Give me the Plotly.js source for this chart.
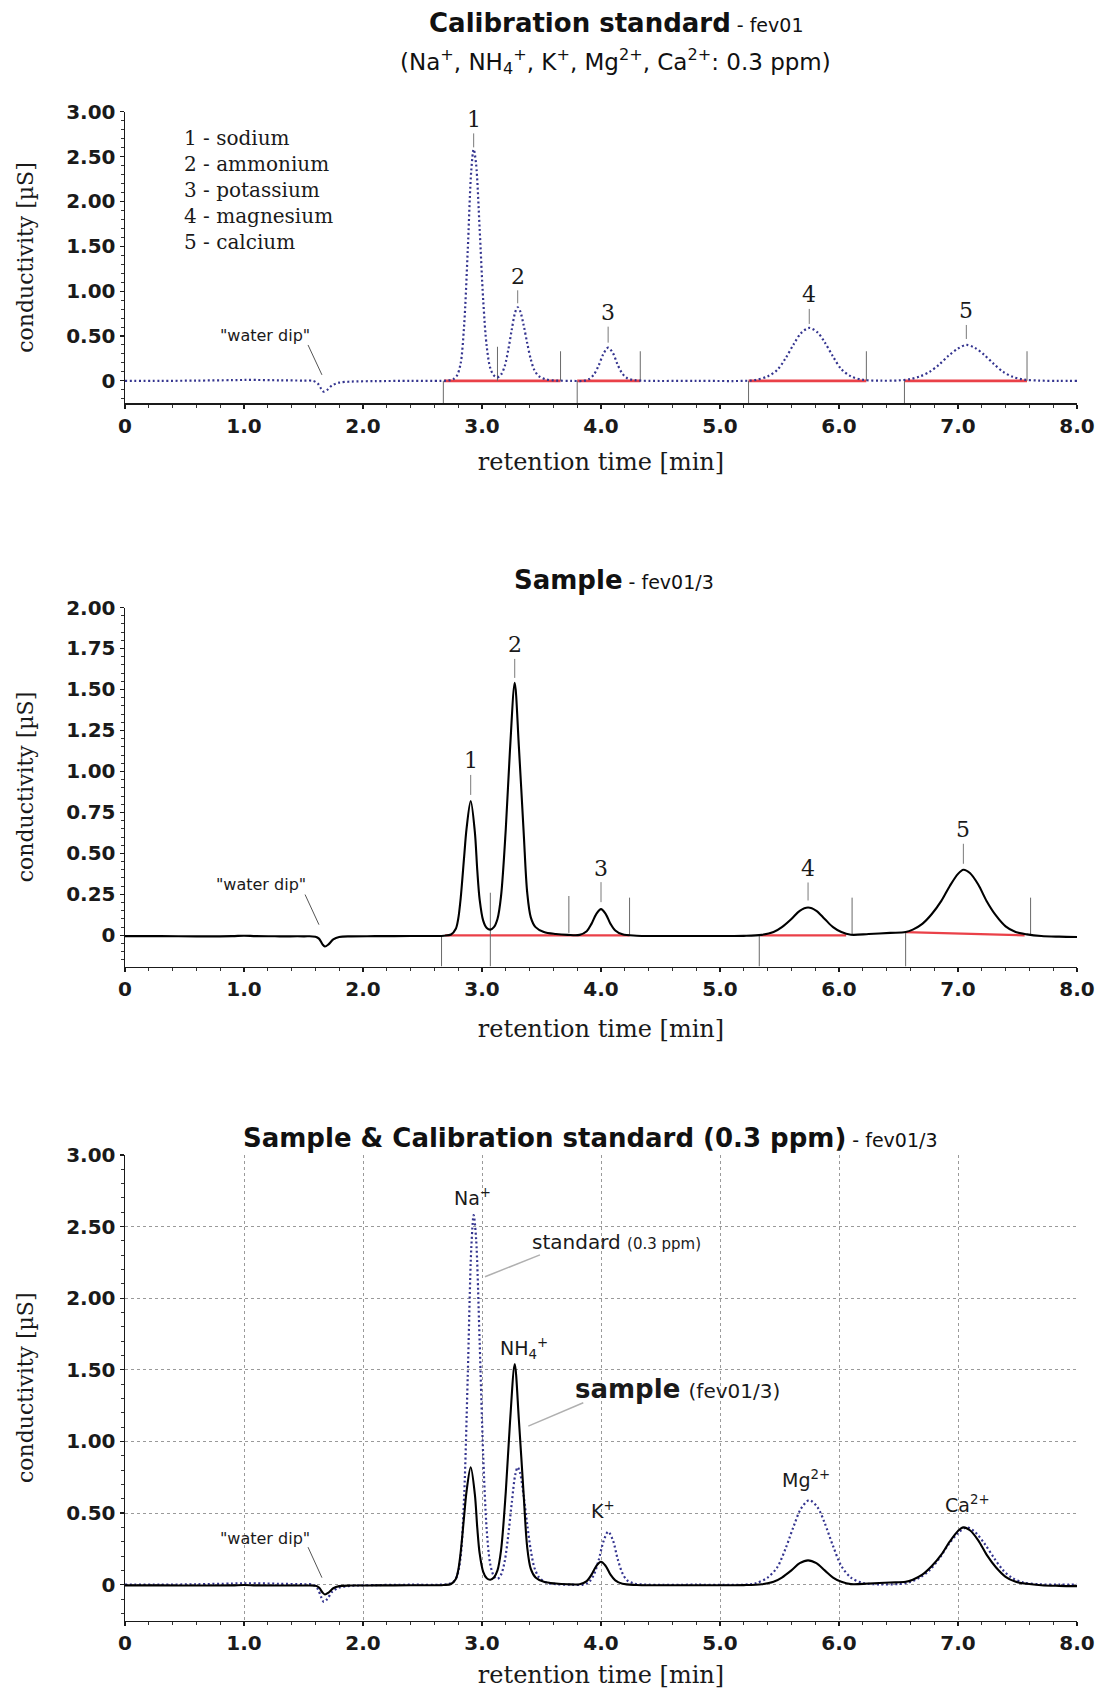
<!DOCTYPE html>
<html>
<head>
<meta charset="utf-8">
<script src="https://cdn.plot.ly/plotly-3.0.1.min.js"></script>
<style>
  html, body { margin: 0; padding: 0; background: #ffffff; }
  #chart { width: 1099px; height: 1691px; }
</style>
</head>
<body>
<div id="chart"></div>
<script>
// ---- Chromatogram of the 0.3 ppm calibration standard (retention time [min], conductivity [µS]) ----
const stdTime = [0, 0.3, 0.6, 0.9, 1.0, 1.1, 1.3, 1.5, 1.58, 1.62, 1.65, 1.67, 1.70, 1.74, 1.80, 1.90, 2.1, 2.4, 2.65,
  2.72, 2.76, 2.79, 2.82, 2.85, 2.88, 2.91, 2.93, 2.95, 2.98, 3.01, 3.04, 3.07, 3.10, 3.13,
  3.16, 3.19, 3.22, 3.25, 3.28, 3.30, 3.32, 3.35, 3.38, 3.41, 3.44, 3.48, 3.54, 3.62, 3.75,
  3.85, 3.90, 3.94, 3.98, 4.02, 4.06, 4.10, 4.14, 4.18, 4.22, 4.28, 4.40, 4.8, 5.2,
  5.30, 5.40, 5.48, 5.55, 5.62, 5.68, 5.75, 5.82, 5.88, 5.95, 6.02, 6.10, 6.20, 6.35,
  6.50, 6.60, 6.68, 6.76, 6.84, 6.92, 7.00, 7.07, 7.14, 7.22, 7.30, 7.38, 7.46, 7.55, 7.68, 7.85, 8.0];
const stdCond = [0, 0, 0.003, 0.008, 0.01, 0.01, 0.006, 0.003, 0, -0.03, -0.09, -0.12, -0.10, -0.05, -0.02, -0.008, -0.003, 0, 0,
  0.005, 0.02, 0.06, 0.19, 0.62, 1.45, 2.35, 2.58, 2.42, 1.70, 0.90, 0.38, 0.14, 0.06, 0.04,
  0.07, 0.16, 0.34, 0.57, 0.77, 0.82, 0.78, 0.62, 0.42, 0.24, 0.12, 0.05, 0.015, 0.004, 0,
  0, 0.02, 0.07, 0.17, 0.30, 0.37, 0.31, 0.18, 0.08, 0.03, 0.008, 0, 0, 0,
  0.01, 0.05, 0.12, 0.25, 0.41, 0.53, 0.59, 0.54, 0.43, 0.27, 0.13, 0.05, 0.012, 0.002,
  0.005, 0.02, 0.05, 0.10, 0.18, 0.28, 0.36, 0.40, 0.37, 0.29, 0.19, 0.10, 0.045, 0.015, 0.003, 0, 0];

// ---- Chromatogram of sample fev01/3 ----
const sampleTime = [0, 0.3, 0.6, 0.9, 1.0, 1.1, 1.3, 1.5, 1.6, 1.63, 1.66, 1.68, 1.71, 1.75, 1.80, 1.90, 2.1, 2.4, 2.68,
  2.74, 2.78, 2.80, 2.82, 2.85, 2.87, 2.905, 2.94, 2.96, 2.98, 3.01, 3.04, 3.07,
  3.10, 3.13, 3.16, 3.20, 3.235, 3.275, 3.31, 3.35, 3.38, 3.41, 3.45, 3.52, 3.62, 3.72,
  3.82, 3.88, 3.92, 3.96, 4.00, 4.04, 4.08, 4.12, 4.18, 4.30, 4.8, 5.2,
  5.35, 5.45, 5.52, 5.60, 5.67, 5.74, 5.81, 5.88, 5.95, 6.02, 6.10, 6.25, 6.43,
  6.56, 6.62, 6.70, 6.78, 6.86, 6.93, 7.00, 7.045, 7.10, 7.17, 7.24, 7.32, 7.40, 7.48, 7.58, 7.70, 7.85, 8.0];
const sampleCond = [-0.005, -0.005, -0.006, -0.005, -0.002, -0.005, -0.006, -0.006, -0.008, -0.02, -0.055, -0.068, -0.055, -0.025, -0.01, -0.006, -0.005, -0.004, -0.002,
  0.005, 0.04, 0.10, 0.22, 0.48, 0.65, 0.82, 0.63, 0.40, 0.22, 0.09, 0.045, 0.035,
  0.05, 0.10, 0.24, 0.65, 1.13, 1.54, 1.15, 0.63, 0.26, 0.11, 0.05, 0.02, 0.008, 0.003,
  0.003, 0.025, 0.07, 0.13, 0.16, 0.13, 0.07, 0.03, 0.006, -0.002, -0.004, -0.003,
  0.003, 0.02, 0.05, 0.10, 0.15, 0.17, 0.15, 0.10, 0.05, 0.02, 0.004, 0.008, 0.015,
  0.02, 0.035, 0.07, 0.13, 0.21, 0.30, 0.375, 0.40, 0.38, 0.31, 0.21, 0.12, 0.055, 0.022, 0.006, -0.004, -0.008, -0.01];

// ---- Peak identification ----
const peakNumbers = ['1', '2', '3', '4', '5'];
const ionNames = ['sodium', 'ammonium', 'potassium', 'magnesium', 'calcium'];
const ionSymbols = ['Na<sup>+</sup>', 'NH<sub>4</sub><sup>+</sup>', 'K<sup>+</sup>', 'Mg<sup>2+</sup>', 'Ca<sup>2+</sup>'];
const stdPeakTimes = [2.93, 3.30, 4.06, 5.75, 7.07];
const samplePeakTimes = [2.905, 3.275, 4.00, 5.74, 7.045];

// ---- Integration: peak start/end markers and baselines ----
const stdMarkTime = [2.675, 3.13, 3.66, 3.80, 4.33, 5.24, 6.23, 6.55, 7.58];
const stdMarkTop = [0, 0.38, 0.33, 0, 0.33, 0, 0.33, 0, 0.33];
const stdMarkBottom = [-0.25, 0, 0, -0.25, 0, -0.25, 0, -0.25, 0];
const stdBaseStart = [2.68, 3.80, 5.24, 6.55];
const stdBaseEnd = [3.66, 4.33, 6.23, 7.58];
const stdBaseStartY = [0, 0, 0, 0];
const stdBaseEndY = [0, 0, 0, 0];

const sampleMarkTime = [2.66, 3.07, 3.73, 4.24, 5.33, 6.11, 6.56, 7.61];
const sampleMarkTop = [0, 0.26, 0.24, 0.23, 0, 0.23, 0.015, 0.23];
const sampleMarkBottom = [-0.19, -0.19, 0.015, 0, -0.19, 0, -0.19, 0];
const sampleBaseStart = [2.69, 5.34, 6.56];
const sampleBaseEnd = [4.24, 6.06, 7.56];
const sampleBaseStartY = [0, 0, 0.02];
const sampleBaseEndY = [0, 0, 0];

// ---- Axis ticks ----
const xTickVals = [0, 1, 2, 3, 4, 5, 6, 7, 8];
const xTickText = ['0', '1.0', '2.0', '3.0', '4.0', '5.0', '6.0', '7.0', '8.0'];
const yTickVals3 = [0, 0.5, 1.0, 1.5, 2.0, 2.5, 3.0];
const yTickText3 = ['0', '0.50', '1.00', '1.50', '2.00', '2.50', '3.00'];
const yTickVals2 = [0, 0.25, 0.5, 0.75, 1.0, 1.25, 1.5, 1.75, 2.0];
const yTickText2 = ['0', '0.25', '0.50', '0.75', '1.00', '1.25', '1.50', '1.75', '2.00'];

// ------------------------------------------------------------------
const W = 1099, H = 1691;
const SANS = 'DejaVu Sans, Liberation Sans, sans-serif';
const SERIF = 'DejaVu Serif, Liberation Serif, serif';
const INK = '#1a1a1a';
const STD_COLOR = '#34348f';

// vertical placement of the three panels, in px from the top
function domainFromPx(topPx, bottomPx) { return [1 - bottomPx / H, 1 - topPx / H]; }
function paperY(px) { return 1 - px / H; }
const plotLeft = 125, plotRight = 1077;
function paperX(px) { return (px - plotLeft) / (plotRight - plotLeft); }

function segments(xs0, xs1, ys0, ys1) {
  const x = [], y = [];
  for (let i = 0; i < xs0.length; i++) { x.push(xs0[i], xs1[i], null); y.push(ys0[i], ys1[i], null); }
  return { x, y };
}
function peakTop(times, vals, t) {
  let best = -Infinity;
  for (let i = 0; i < times.length; i++) if (Math.abs(times[i] - t) <= 0.03) best = Math.max(best, vals[i]);
  return best;
}

const stdLine = { color: STD_COLOR, width: 2.2, dash: '2px,2.6px', shape: 'spline', smoothing: 0.9 };
const sampleLine = { color: '#000000', width: 2.1, shape: 'spline', smoothing: 0.9 };

const stdMarks = segments(stdMarkTime, stdMarkTime, stdMarkTop, stdMarkBottom);
const sampleMarks = segments(sampleMarkTime, sampleMarkTime, sampleMarkTop, sampleMarkBottom);
const stdBase = segments(stdBaseStart, stdBaseEnd, stdBaseStartY, stdBaseEndY);
const sampleBase = segments(sampleBaseStart, sampleBaseEnd, sampleBaseStartY, sampleBaseEndY);

const traces = [
  // panel 1 - calibration standard
  { x: stdBase.x, y: stdBase.y, xaxis: 'x', yaxis: 'y', mode: 'lines', line: { color: 'rgba(230,30,40,0.85)', width: 2.6 }, hoverinfo: 'skip' },
  { x: stdMarks.x, y: stdMarks.y, xaxis: 'x', yaxis: 'y', mode: 'lines', line: { color: '#6a6a6a', width: 1 }, hoverinfo: 'skip' },
  { x: stdTime, y: stdCond, xaxis: 'x', yaxis: 'y', mode: 'lines', line: stdLine, name: 'standard (0.3 ppm)' },
  // panel 2 - sample
  { x: sampleBase.x, y: sampleBase.y, xaxis: 'x2', yaxis: 'y2', mode: 'lines', line: { color: 'rgba(230,30,40,0.85)', width: 2.2 }, hoverinfo: 'skip' },
  { x: sampleMarks.x, y: sampleMarks.y, xaxis: 'x2', yaxis: 'y2', mode: 'lines', line: { color: '#6a6a6a', width: 1 }, hoverinfo: 'skip' },
  { x: sampleTime, y: sampleCond, xaxis: 'x2', yaxis: 'y2', mode: 'lines', line: sampleLine, name: 'sample (fev01/3)' },
  // panel 3 - overlay
  { x: stdTime, y: stdCond, xaxis: 'x3', yaxis: 'y3', mode: 'lines', line: stdLine, name: 'standard (0.3 ppm)' },
  { x: sampleTime, y: sampleCond, xaxis: 'x3', yaxis: 'y3', mode: 'lines', line: sampleLine, name: 'sample (fev01/3)' }
];

const tickFont = { family: SANS, size: 20, color: INK, weight: 700 };
function xAxis(anchor, grid, standoff) {
  return {
    anchor: anchor, domain: [0, 1], range: [0, 8], fixedrange: true,
    tickmode: 'array', tickvals: xTickVals, ticktext: xTickText, tickfont: tickFont,
    ticks: 'outside', ticklen: 4, tickwidth: 1.2, tickcolor: INK,
    minor: { tickmode: 'linear', tick0: 0, dtick: 0.2, ticks: 'outside', ticklen: 3, tickwidth: 1, tickcolor: '#333',
             showgrid: false },
    showline: true, linecolor: INK, linewidth: 1.5, zeroline: false,
    showgrid: grid, gridcolor: '#9a9a9a', griddash: 'dot', gridwidth: 1,
    title: { text: 'retention time [min]', font: { family: SERIF, size: 24, color: INK }, standoff: standoff }
  };
}
function yAxis(anchor, dom, range, vals, text, minorStep, grid) {
  return {
    anchor: anchor, domain: dom, range: range, fixedrange: true,
    tickmode: 'array', tickvals: vals, ticktext: text, tickfont: tickFont,
    ticks: 'outside', ticklen: 4, tickwidth: 1.2, tickcolor: INK,
    minor: { tickmode: 'linear', tick0: 0, dtick: minorStep, ticks: 'outside', ticklen: 3, tickwidth: 1, tickcolor: '#333',
             showgrid: false },
    showline: true, linecolor: INK, linewidth: 1.5, zeroline: false,
    showgrid: grid, gridcolor: '#9a9a9a', griddash: 'dot', gridwidth: 1,
    title: { text: 'conductivity [µS]', font: { family: SERIF, size: 22, color: INK }, standoff: 26 }
  };
}

const annotations = [];
const shapes = [];

// panel titles
function title(text, xPx, yPx) {
  annotations.push({ xref: 'paper', yref: 'paper', x: paperX(xPx), y: paperY(yPx), xanchor: 'center', yanchor: 'middle',
    text: text, showarrow: false, font: { family: SANS, size: 26, color: '#111' } });
}
title('<b>Calibration standard</b><span style="font-size:19px"> - fev01</span>', 616, 23);
annotations.push({ xref: 'paper', yref: 'paper', x: paperX(615), y: paperY(62), xanchor: 'center', yanchor: 'middle',
  text: '(' + ionSymbols.join(', ') + ': 0.3 ppm)', showarrow: false, font: { family: SANS, size: 23, color: '#111' } });
title('<b>Sample</b><span style="font-size:19px"> - fev01/3</span>', 614, 580);
title('<b>Sample &amp; Calibration standard (0.3 ppm)</b><span style="font-size:19px"> - fev01/3</span>', 590, 1138);

// numbered peak labels with short leader lines
function peakLabels(xr, yr, times, vals, peaks, offsets, gaps) {
  peaks.forEach((t, i) => {
    annotations.push({ xref: xr, yref: yr, x: t, y: peakTop(times, vals, t), text: peakNumbers[i],
      showarrow: true, arrowhead: 0, arrowwidth: 1, arrowcolor: '#7a7a7a', ax: 0, ay: offsets[i], standoff: gaps[i],
      font: { family: SERIF, size: 22, color: INK } });
  });
}
peakLabels('x', 'y', stdTime, stdCond, stdPeakTimes, [-30, -31, -35, -33, -34], [2, 4, 5, 4, 6]);
peakLabels('x2', 'y2', sampleTime, sampleCond, samplePeakTimes, [-40, -38, -41, -39, -40], [6, 5, 7, 7, 6]);

// peak key of panel 1
annotations.push({ xref: 'x', yref: 'y', x: 0.476, y: 2.13, xanchor: 'left', yanchor: 'middle', align: 'left',
  text: peakNumbers.map((n, i) => n + ' - ' + ionNames[i]).join('<br>'), showarrow: false,
  font: { family: SERIF, size: 20, color: INK } });

// "water dip" notes
function waterDip(xr, yr, tx, ty, x0, y0, x1, y1) {
  annotations.push({ xref: xr, yref: yr, x: tx, y: ty, text: '"water dip"', showarrow: false,
    font: { family: SANS, size: 16, color: INK } });
  shapes.push({ type: 'line', xref: xr, yref: yr, x0: x0, y0: y0, x1: x1, y1: y1, line: { color: '#555', width: 1 } });
}
waterDip('x', 'y', 1.176, 0.511, 1.538, 0.40, 1.655, 0.067);
waterDip('x2', 'y2', 1.143, 0.31, 1.513, 0.249, 1.630, 0.065);
waterDip('x3', 'y3', 1.176, 0.32, 1.538, 0.262, 1.655, 0.049);

// ion symbols of panel 3
const ionLabelX = [2.92, 3.35, 4.02, 5.72, 7.08];
const ionLabelY = [2.71, 1.65, 0.52, 0.74, 0.56];
ionSymbols.forEach((s, i) => {
  annotations.push({ xref: 'x3', yref: 'y3', x: ionLabelX[i], y: ionLabelY[i], text: s, showarrow: false,
    font: { family: SANS, size: 19, color: INK } });
});
annotations.push({ xref: 'x3', yref: 'y3', x: 3.40, y: 2.39, xanchor: 'left', yanchor: 'middle', showarrow: false,
  text: 'standard <span style="font-size:15px">(0.3 ppm)</span>', font: { family: SANS, size: 20, color: INK } });
shapes.push({ type: 'line', xref: 'x3', yref: 'y3', x0: 3.487, y0: 2.303, x1: 3.025, y1: 2.150, line: { color: '#b0b0b0', width: 1.5 } });
annotations.push({ xref: 'x3', yref: 'y3', x: 3.767, y: 1.363, xanchor: 'left', yanchor: 'middle', showarrow: false,
  text: '<b>sample</b> <span style="font-size:20px">(fev01/3)</span>', font: { family: SANS, size: 26, color: INK } });
shapes.push({ type: 'line', xref: 'x3', yref: 'y3', x0: 3.851, y0: 1.270, x1: 3.389, y1: 1.107, line: { color: '#b0b0b0', width: 1.5 } });

const layout = {
  width: W, height: H,
  margin: { l: plotLeft, r: W - plotRight, t: 0, b: 0, pad: 0 },
  paper_bgcolor: '#ffffff', plot_bgcolor: '#ffffff',
  showlegend: false,
  font: { family: SANS, color: INK },
  xaxis: xAxis('y', false, 16),
  yaxis: yAxis('x', domainFromPx(111.7, 403.3), [-0.25, 3.0], yTickVals3, yTickText3, 0.1, false),
  xaxis2: xAxis('y2', false, 20),
  yaxis2: yAxis('x2', domainFromPx(607.5, 966.5), [-0.19, 2.0], yTickVals2, yTickText2, 0.05, false),
  xaxis3: xAxis('y3', true, 12),
  yaxis3: yAxis('x3', domainFromPx(1155, 1620.5), [-0.25, 3.0], yTickVals3, yTickText3, 0.1, true),
  annotations: annotations,
  shapes: shapes
};

Plotly.newPlot('chart', traces, layout, { displayModeBar: false, staticPlot: true });
</script>
</body>
</html>
